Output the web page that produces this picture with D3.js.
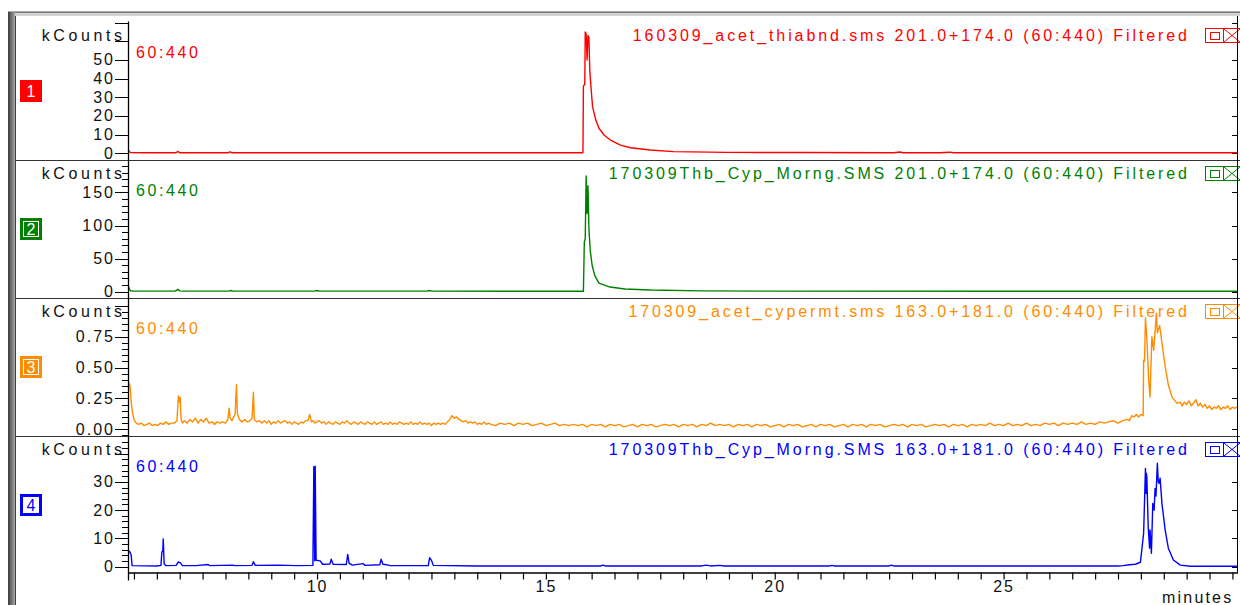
<!DOCTYPE html>
<html>
<head>
<meta charset="utf-8">
<script src="https://cdn.jsdelivr.net/npm/d3@7"></script>
<style>
  body { margin: 0; background: #fff; overflow: hidden; }
  svg { display: block; font-family: "Liberation Sans", Arial, sans-serif; }
</style>
</head>
<body>
<script>
// ---- data ----
const timeRange = [5.87, 30.1];            // minutes
const xTickLabels = [10, 15, 20, 25];

const titles = [
  "160309_acet_thiabnd.sms 201.0+174.0 (60:440) Filtered",
  "170309Thb_Cyp_Morng.SMS 201.0+174.0 (60:440) Filtered",
  "170309_acet_cypermt.sms 163.0+181.0 (60:440) Filtered",
  "170309Thb_Cyp_Morng.SMS 163.0+181.0 (60:440) Filtered"
];
const massRange = "60:440";
const panelIds = ["1", "2", "3", "4"];
const colors = ["#ff0000", "#008000", "#ff8c00", "#0000ff"];

const majorStep = [10, 50, 0.25, 10];
const minorStep = [10, 10, 0.05, 2];
const maxLabel = [50, 150, 0.75, 30];

// kCounts vs minutes
const trace1 = [
  [5.87, 0.6], [5.89, 1.3], [5.92, 0.4], [6.3, 0.3], [6.92, 0.3], [6.96, 1.0], [7.0, 0.3],
  [8.06, 0.3], [8.10, 0.8], [8.14, 0.3], [9.5, 0.3], [11.0, 0.3], [13.0, 0.3], [15.0, 0.3],
  [15.81, 0.3], [15.82, 36], [15.85, 37], [15.86, 65], [15.88, 64], [15.90, 50], [15.92, 63],
  [15.94, 62], [15.96, 44], [15.99, 34], [16.02, 25], [16.09, 17.8], [16.16, 13.4],
  [16.27, 9.8], [16.41, 7.1], [16.63, 4.4], [16.85, 3.0], [17.28, 1.8], [17.79, 0.9],
  [18.95, 0.5], [20.5, 0.4], [22.6, 0.3], [22.74, 0.7], [22.8, 0.3], [23.6, 0.3],
  [23.83, 0.6], [23.9, 0.3], [26.0, 0.3], [30.1, 0.3]
];

const trace2 = [
  [5.87, 5], [5.89, 6.5], [5.92, 1.5], [6.0, 0.8], [6.9, 0.8], [6.96, 3.5], [7.0, 1.2],
  [7.1, 0.8], [8.08, 0.8], [8.12, 1.8], [8.16, 0.8], [9.95, 0.8], [10.0, 1.8], [10.05, 0.8],
  [12.4, 0.8], [12.45, 1.8], [12.5, 0.8], [15.82, 0.6], [15.84, 75], [15.86, 80],
  [15.88, 175], [15.90, 118], [15.92, 160], [15.94, 95], [15.97, 62], [16.01, 40],
  [16.07, 24], [16.16, 13], [16.40, 7], [16.73, 4], [17.28, 2.5], [18.4, 1.2], [20.0, 0.8],
  [25.0, 0.6], [30.1, 0.6]
];

const trace3 = [
  [5.87, 0.15], [5.88, 0.38], [5.90, 0.37], [5.92, 0.33], [5.94, 0.22], [5.97, 0.13],
  [6.01, 0.07], [6.05, 0.05], [6.10, 0.04], [6.16, 0.05], [6.22, 0.03], [6.28, 0.04],
  [6.34, 0.05], [6.40, 0.03], [6.46, 0.04], [6.52, 0.03], [6.58, 0.05], [6.64, 0.04],
  [6.70, 0.06], [6.76, 0.04], [6.82, 0.05], [6.88, 0.05], [6.94, 0.07], [6.97, 0.27],
  [6.99, 0.22], [7.01, 0.26], [7.03, 0.08], [7.06, 0.05], [7.10, 0.07], [7.16, 0.05],
  [7.22, 0.08], [7.28, 0.06], [7.34, 0.09], [7.40, 0.05], [7.46, 0.08], [7.52, 0.06],
  [7.58, 0.09], [7.64, 0.05], [7.70, 0.06], [7.76, 0.04], [7.82, 0.06], [7.88, 0.05],
  [7.94, 0.06], [8.00, 0.05], [8.05, 0.08], [8.08, 0.17], [8.10, 0.09], [8.14, 0.07],
  [8.18, 0.10], [8.21, 0.12], [8.24, 0.36], [8.26, 0.13], [8.30, 0.08], [8.36, 0.06],
  [8.42, 0.08], [8.48, 0.06], [8.54, 0.07], [8.58, 0.09], [8.61, 0.30], [8.63, 0.08],
  [8.68, 0.06], [8.74, 0.07], [8.80, 0.05], [8.85, 0.07], [8.9, 0.05], [8.95, 0.07],
  [9.0, 0.04], [9.05, 0.06], [9.1, 0.05], [9.15, 0.07], [9.2, 0.05], [9.25, 0.06],
  [9.3, 0.07], [9.35, 0.05], [9.4, 0.06], [9.45, 0.04], [9.5, 0.06], [9.55, 0.05],
  [9.6, 0.04], [9.65, 0.06], [9.7, 0.05], [9.75, 0.07], [9.8, 0.07], [9.84, 0.12],
  [9.88, 0.06], [9.92, 0.07], [9.95, 0.05], [10.0, 0.06], [10.05, 0.07], [10.1, 0.05],
  [10.15, 0.06], [10.2, 0.04], [10.25, 0.06], [10.3, 0.05], [10.35, 0.04], [10.4, 0.06],
  [10.45, 0.05], [10.5, 0.04], [10.55, 0.06], [10.6, 0.05], [10.65, 0.07], [10.7, 0.05],
  [10.75, 0.04], [10.8, 0.06], [10.85, 0.05], [10.9, 0.04], [10.95, 0.06], [11.0, 0.05],
  [11.05, 0.04], [11.1, 0.06], [11.15, 0.05], [11.2, 0.04], [11.25, 0.06], [11.3, 0.04],
  [11.35, 0.05], [11.4, 0.06], [11.45, 0.04], [11.5, 0.05], [11.55, 0.04], [11.6, 0.06],
  [11.65, 0.04], [11.7, 0.05], [11.75, 0.04], [11.8, 0.06], [11.85, 0.05], [11.9, 0.04],
  [11.95, 0.05], [12.0, 0.04], [12.05, 0.06], [12.1, 0.04], [12.15, 0.05], [12.2, 0.04],
  [12.25, 0.06], [12.3, 0.04], [12.35, 0.05], [12.4, 0.04], [12.45, 0.05], [12.5, 0.03],
  [12.55, 0.05], [12.6, 0.04], [12.65, 0.05], [12.7, 0.04], [12.75, 0.05], [12.8, 0.04],
  [12.85, 0.06], [12.9, 0.08], [12.95, 0.11], [13.0, 0.09], [13.05, 0.10], [13.1, 0.08],
  [13.15, 0.07], [13.2, 0.06], [13.25, 0.07], [13.3, 0.05], [13.35, 0.06], [13.4, 0.05],
  [13.45, 0.06], [13.5, 0.04], [13.55, 0.05], [13.6, 0.04], [13.65, 0.06], [13.7, 0.04],
  [13.75, 0.05], [13.8, 0.04], [13.9, 0.03], [14.0, 0.05], [14.1, 0.04], [14.2, 0.05],
  [14.3, 0.03], [14.4, 0.05], [14.5, 0.04], [14.6, 0.05], [14.7, 0.03], [14.8, 0.04],
  [14.9, 0.05], [15.0, 0.03], [15.1, 0.04], [15.2, 0.05], [15.3, 0.03], [15.4, 0.04],
  [15.5, 0.03], [15.6, 0.04], [15.7, 0.03], [15.8, 0.04], [15.9, 0.02], [16.0, 0.04],
  [16.1, 0.03], [16.2, 0.04], [16.3, 0.02], [16.4, 0.04], [16.5, 0.03], [16.6, 0.04],
  [16.7, 0.02], [16.8, 0.03], [16.9, 0.04], [17.0, 0.02], [17.1, 0.04], [17.2, 0.03],
  [17.3, 0.04], [17.4, 0.02], [17.5, 0.03], [17.6, 0.04], [17.7, 0.03], [17.8, 0.04],
  [17.9, 0.02], [18.0, 0.04], [18.1, 0.03], [18.2, 0.04], [18.3, 0.02], [18.4, 0.04],
  [18.5, 0.03], [18.6, 0.05], [18.7, 0.03], [18.8, 0.04], [18.9, 0.03], [19.0, 0.04],
  [19.1, 0.02], [19.2, 0.04], [19.3, 0.03], [19.4, 0.04], [19.5, 0.02], [19.6, 0.04],
  [19.7, 0.03], [19.8, 0.04], [19.9, 0.02], [20.0, 0.03], [20.1, 0.04], [20.2, 0.02],
  [20.3, 0.04], [20.4, 0.03], [20.5, 0.04], [20.6, 0.02], [20.7, 0.03], [20.8, 0.04],
  [20.9, 0.02], [21.0, 0.04], [21.1, 0.03], [21.2, 0.04], [21.3, 0.02], [21.4, 0.03],
  [21.5, 0.04], [21.6, 0.02], [21.7, 0.04], [21.8, 0.03], [21.9, 0.04], [22.0, 0.02],
  [22.1, 0.04], [22.2, 0.03], [22.3, 0.04], [22.4, 0.02], [22.5, 0.03], [22.6, 0.04],
  [22.7, 0.03], [22.8, 0.04], [22.9, 0.02], [23.0, 0.04], [23.1, 0.03], [23.2, 0.04],
  [23.3, 0.02], [23.4, 0.03], [23.5, 0.04], [23.6, 0.03], [23.7, 0.04], [23.8, 0.02],
  [23.9, 0.04], [24.0, 0.03], [24.1, 0.04], [24.2, 0.02], [24.3, 0.04], [24.4, 0.03],
  [24.5, 0.04], [24.6, 0.03], [24.7, 0.05], [24.8, 0.03], [24.9, 0.04], [25.0, 0.03],
  [25.1, 0.05], [25.2, 0.03], [25.3, 0.04], [25.4, 0.03], [25.5, 0.05], [25.6, 0.03],
  [25.7, 0.04], [25.8, 0.03], [25.9, 0.05], [26.0, 0.04], [26.1, 0.05], [26.2, 0.03],
  [26.3, 0.05], [26.4, 0.04], [26.5, 0.05], [26.6, 0.04], [26.7, 0.06], [26.8, 0.04],
  [26.9, 0.05], [27.0, 0.04], [27.1, 0.06], [27.2, 0.05], [27.3, 0.06], [27.4, 0.07],
  [27.5, 0.05], [27.6, 0.07], [27.7, 0.08], [27.75, 0.07],
  [27.8, 0.11], [27.85, 0.10], [27.9, 0.12], [27.95, 0.10], [28.0, 0.12], [28.05, 0.11],
  [28.06, 0.56], [28.08, 0.55], [28.10, 0.90], [28.13, 0.74], [28.17, 0.40], [28.20, 0.26],
  [28.24, 0.75], [28.28, 0.64], [28.34, 0.94], [28.36, 0.78], [28.41, 0.84], [28.46, 0.70],
  [28.53, 0.51], [28.60, 0.36], [28.68, 0.26], [28.79, 0.21], [28.86, 0.22], [28.9, 0.19],
  [28.95, 0.22], [29.0, 0.20], [29.05, 0.23], [29.1, 0.19], [29.15, 0.21], [29.2, 0.24],
  [29.25, 0.19], [29.3, 0.21], [29.35, 0.18], [29.4, 0.20], [29.45, 0.17], [29.5, 0.19],
  [29.55, 0.16], [29.6, 0.18], [29.65, 0.17], [29.7, 0.19], [29.75, 0.16], [29.8, 0.18],
  [29.85, 0.17], [29.9, 0.19], [29.95, 0.16], [30.0, 0.18], [30.05, 0.17], [30.1, 0.18]
];

const trace4 = [
  [5.87, 3.5], [5.88, 5.6], [5.91, 5.2], [5.94, 4.0], [5.96, 0.3], [6.5, 0.2], [6.59, 0.4],
  [6.61, 5.2], [6.63, 5.4], [6.64, 9.8], [6.66, 1.0], [6.70, 0.3], [6.92, 0.4], [6.97, 1.6],
  [7.01, 1.4], [7.06, 0.3], [7.36, 0.3], [7.62, 0.7], [7.66, 0.3], [8.16, 0.5], [8.20, 0.3],
  [8.58, 0.4], [8.61, 1.7], [8.65, 0.4], [9.15, 0.5], [9.56, 0.3], [9.91, 0.4], [9.93, 35.4],
  [9.95, 2.0], [9.96, 35.6], [9.98, 2.2], [10.07, 2.0], [10.12, 0.8], [10.28, 0.9],
  [10.31, 2.6], [10.35, 0.8], [10.64, 0.7], [10.67, 4.3], [10.70, 1.2], [10.77, 0.5],
  [11.01, 1.0], [11.05, 0.4], [11.37, 0.6], [11.40, 2.6], [11.44, 0.8], [11.53, 0.6],
  [11.6, 0.3], [12.43, 0.3], [12.46, 3.1], [12.50, 2.2], [12.54, 0.4], [13.5, 0.2],
  [16.2, 0.2], [16.25, 0.5], [16.3, 0.2], [18.4, 0.2], [18.5, 0.5], [18.6, 0.2],
  [18.8, 0.4], [18.9, 0.2], [21.2, 0.2], [21.25, 0.4], [21.3, 0.2], [22.5, 0.2], [22.55, 0.5],
  [22.6, 0.2], [27.5, 0.2], [27.61, 0.3], [27.75, 0.6], [27.88, 0.8], [27.99, 1.5],
  [28.06, 11.8], [28.10, 34.8], [28.11, 26], [28.12, 33], [28.13, 31.8], [28.16, 14],
  [28.19, 6.5], [28.20, 13], [28.23, 4.7], [28.26, 22.4], [28.29, 20], [28.31, 27.7],
  [28.33, 25], [28.36, 36.6], [28.38, 30], [28.40, 29.5], [28.42, 31.3], [28.46, 22.4],
  [28.53, 13], [28.60, 6.5], [28.71, 2.3], [28.86, 0.5], [29.08, 0.1], [30.1, 0.1]
];

const traces = [trace1, trace2, trace3, trace4];

// ---- layout ----
const W = 1240, H = 605;
const plotLeft = 128, plotRight = 1237;
const panelTop = [16, 160, 298, 436];
const panelBottom = [160, 298, 436, 572.5];
const zeroY = [153.3, 291.7, 429.3, 566.5];
const pxPerUnit = [1.867, 0.662, 123.6, 2.82];
const axisY = 572.5;

const svg = d3.select("body").append("svg")
  .attr("width", W)
  .attr("height", H);

const defs = svg.append("defs");
const grad = defs.append("linearGradient").attr("id", "edge");
grad.append("stop").attr("offset", "0%").attr("stop-color", "#3a3a3a");
grad.append("stop").attr("offset", "100%").attr("stop-color", "#a8a8a8");

// window frame
svg.append("rect").attr("x", 8).attr("y", 12).attr("width", W - 8).attr("height", 4).attr("fill", "#d2d2d2");
svg.append("rect").attr("x", 8).attr("y", 11.5).attr("width", W - 8).attr("height", 1.2).attr("fill", "#555");
svg.append("rect").attr("x", 8).attr("y", 12).attr("width", 7).attr("height", H - 12).attr("fill", "url(#edge)");
svg.append("line").attr("x1", 15.5).attr("x2", 15.5).attr("y1", 16).attr("y2", H).attr("stroke", "#444");

const x = d3.scaleLinear().domain(timeRange).range([plotLeft, plotRight]);

const fmt = [d3.format("d"), d3.format("d"), d3.format(".2f"), d3.format("d")];

traces.forEach(function(data, i) {
  const top = panelTop[i], bottom = panelBottom[i];
  const col = colors[i];
  const y = d3.scaleLinear().domain([0, 1]).range([zeroY[i], zeroY[i] - pxPerUnit[i]]);
  const g = svg.append("g");

  // separator under the panel
  if (i < 3) {
    g.append("line").attr("x1", 16).attr("x2", W).attr("y1", bottom + 0.5).attr("y2", bottom + 0.5)
      .attr("stroke", "#333").attr("stroke-width", 1.2);
  }

  // y ticks
  const vTop = y.invert(top + 2), vBot = y.invert(bottom - 0.5);
  const minors = d3.range(Math.ceil(vBot / minorStep[i]), Math.floor(vTop / minorStep[i]) + 1)
    .map(k => +(k * minorStep[i]).toFixed(4));
  minors.forEach(function(v) {
    const major = Math.abs(v / majorStep[i] - Math.round(v / majorStep[i])) < 1e-6;
    const len = major ? 13 : 6;
    g.append("line")
      .attr("x1", plotLeft - len).attr("x2", plotLeft)
      .attr("y1", Math.round(y(v)) + 0.5).attr("y2", Math.round(y(v)) + 0.5)
      .attr("stroke", "#000");
    if (major) {
      g.append("line")
        .attr("x1", plotRight - 5).attr("x2", plotRight)
        .attr("y1", Math.round(y(v)) + 0.5).attr("y2", Math.round(y(v)) + 0.5)
        .attr("stroke", "#000");
    }
    if (major && v >= 0 && v <= maxLabel[i] + 1e-9) {
      g.append("text")
        .attr("x", plotLeft - 15 + 2).attr("y", y(v) + 5.5)
        .attr("text-anchor", "end")
        .style("font-size", "16px").style("letter-spacing", "2px")
        .attr("fill", "#111")
        .text(fmt[i](v));
    }
  });

  g.append("text")
    .attr("x", 122 + 3.6).attr("y", top === 16 ? 41 : top + 19)
    .attr("text-anchor", "end")
    .style("font-size", "16px").style("letter-spacing", "3.6px")
    .attr("fill", "#111")
    .text("kCounts");

  // trace
  const clipId = "clip" + i;
  defs.append("clipPath").attr("id", clipId)
    .append("rect").attr("x", plotLeft + 1).attr("y", top + 1)
    .attr("width", plotRight - plotLeft - 1).attr("height", bottom - top - 1);

  g.append("path")
    .datum(data)
    .attr("clip-path", "url(#" + clipId + ")")
    .attr("fill", "none")
    .attr("stroke", col)
    .attr("stroke-width", 1.4)
    .attr("stroke-linejoin", "round")
    .attr("d", d3.line().x(d => x(d[0])).y(d => y(d[1])));

  // labels inside the panel
  const tTop = i === 0 ? 22 : top;
  g.append("text")
    .attr("x", 1187 + 2.9).attr("y", tTop + 19)
    .attr("text-anchor", "end")
    .style("font-size", "16px").style("letter-spacing", "2.9px")
    .attr("fill", col)
    .text(titles[i]);

  g.append("text")
    .attr("x", 136).attr("y", tTop + 36)
    .style("font-size", "16px").style("letter-spacing", "2.6px")
    .attr("fill", col)
    .text(massRange);

  // panel number box
  const by = tTop + 58;
  if (i === 0) {
    g.append("rect").attr("x", 20).attr("y", by).attr("width", 22).attr("height", 22).attr("fill", col);
  } else if (i < 3) {
    g.append("rect").attr("x", 20).attr("y", by).attr("width", 22).attr("height", 22).attr("fill", col);
    g.append("rect").attr("x", 23.5).attr("y", by + 3.5).attr("width", 15).attr("height", 15)
      .attr("fill", "none").attr("stroke", "#fff").attr("stroke-width", 1);
  } else {
    g.append("rect").attr("x", 21.5).attr("y", by + 1.5).attr("width", 19).attr("height", 19)
      .attr("fill", "#fff").attr("stroke", col).attr("stroke-width", 3);
  }
  g.append("text")
    .attr("x", 31).attr("y", by + 17)
    .attr("text-anchor", "middle")
    .style("font-size", "16px")
    .attr("fill", i === 3 ? col : "#fff")
    .text(panelIds[i]);

  // restore / close icons at the right
  const iy = tTop + 6;
  g.append("rect").attr("x", 1205.5).attr("y", iy + 0.5).attr("width", 40).attr("height", 14)
    .attr("fill", "#fff").attr("stroke", col);
  g.append("rect").attr("x", 1210.5).attr("y", iy + 4.5).attr("width", 9).attr("height", 7)
    .attr("fill", "none").attr("stroke", col);
  g.append("line").attr("x1", 1223.5).attr("x2", 1223.5).attr("y1", iy).attr("y2", iy + 14.5).attr("stroke", col);
  g.append("line").attr("x1", 1224).attr("x2", 1240).attr("y1", iy + 1).attr("y2", iy + 14).attr("stroke", col);
  g.append("line").attr("x1", 1224).attr("x2", 1240).attr("y1", iy + 14).attr("y2", iy + 1).attr("stroke", col);
});

// y axis line and right border
svg.append("line").attr("x1", plotLeft + 0.5).attr("x2", plotLeft + 0.5)
  .attr("y1", 21.5).attr("y2", axisY + 8).attr("stroke", "#000").attr("stroke-width", 1.3);
svg.append("line").attr("x1", plotRight + 0.5).attr("x2", plotRight + 0.5)
  .attr("y1", 16).attr("y2", axisY).attr("stroke", "#000");

// time axis
const xAxis = d3.axisBottom(x)
  .tickValues(d3.range(12, 61).map(k => k / 2))
  .tickSize(7)
  .tickFormat(d => xTickLabels.includes(d) ? d : "");

const ax = svg.append("g")
  .attr("transform", "translate(0," + axisY + ")")
  .call(xAxis);
ax.select(".domain").attr("d", "M" + plotLeft + ",0.5H" + (plotRight + 1)).attr("stroke-width", 1.3);
ax.selectAll(".tick line").attr("stroke-width", 1.2);
ax.selectAll(".tick text")
  .attr("dy", "0.71em").attr("y", 8)
  .style("font-size", "16px").style("letter-spacing", "2px")
  .attr("font-family", "Liberation Sans, Arial, sans-serif")
  .attr("fill", "#111");

svg.append("text")
  .attr("x", 1162).attr("y", 603)
  .style("font-size", "16px").style("letter-spacing", "2.2px")
  .attr("fill", "#111")
  .text("minutes");
</script>
</body>
</html>
